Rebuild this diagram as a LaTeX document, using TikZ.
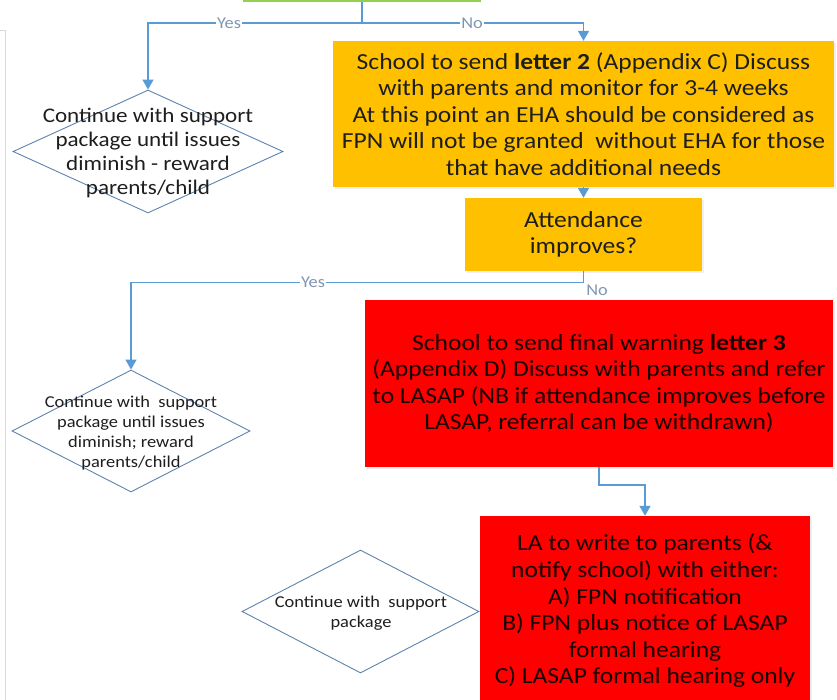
\documentclass[tikz,border=0pt]{standalone}
\usepackage{fontspec}
\setmainfont{Carlito}[FakeStretch=1.11]
\usetikzlibrary{arrows.meta,shapes.geometric,shadows}
\definecolor{orangebox}{HTML}{FFC000}
\definecolor{redbox}{HTML}{FF0000}
\definecolor{greenbox}{HTML}{92D050}
\definecolor{linkblue}{HTML}{5B9BD5}
\definecolor{diamline}{HTML}{5E83AD}
\definecolor{labgray}{HTML}{7F96B2}
\definecolor{txt}{HTML}{1E1E1E}
\tikzset{
  box/.style={rectangle, inner sep=0pt, draw=none, text=txt, align=center,
    font=\fontsize{23}{26.6}\selectfont,
    drop shadow={opacity=0.12, shadow xshift=1.5pt, shadow yshift=-2pt}},
  orangeb/.style={box, fill=orangebox},
  redb/.style={box, fill=redbox, text=black!90!red},
  diam/.style={diamond, draw=diamline, line width=0.9pt, fill=white, inner sep=0pt, aspect=2},
  dtextbig/.style={align=center, text=txt, font=\fontsize{20.8}{24}\selectfont},
  dtextsmall/.style={align=center, text=txt, font=\fontsize{16.6}{19.8}\selectfont},
  link/.style={draw=linkblue, line width=1.5pt, -{Triangle[width=11pt,length=10pt]}},
  plainlink/.style={draw=linkblue, line width=1.5pt},
  lab/.style={fill=white, inner sep=1pt, text=labgray, font=\fontsize{16.5}{18}\selectfont},
}
\begin{document}
\begin{tikzpicture}[x=1pt,y=-1pt]
\useasboundingbox (0,0) rectangle (837,699);
% frame line at left
\draw[black!15, line width=1pt] (0,30) -- (5,30) -- (5,705);
% top green box (only its bottom shows)
\node[rectangle, fill=greenbox, inner sep=0pt, minimum width=238pt, minimum height=40pt] (g) at (362,-18) {};
% orange box 1
\node[orangeb, minimum width=501pt, minimum height=146pt] (o1) at (583.5,114)
  {School to send \textbf{letter 2} (Appendix C) Discuss\\
   with parents and monitor for 3-4 weeks\\
   At this point an EHA should be considered as\\
   FPN will not be granted\ \ without EHA for those\\
   that have additional needs};
% attendance box
\node[orangeb, minimum width=237pt, minimum height=73pt] (a1) at (583.5,234.5)
  {Attendance\\improves?};
% red box 1
\node[redb, minimum width=468pt, minimum height=167pt] (r1) at (599,383.5)
  {School to send final warning \textbf{letter 3}\\
   (Appendix D) Discuss with parents and refer\\
   to LASAP (NB if attendance improves before\\
   LASAP, referral can be withdrawn)};
% red box 2
\node[redb, minimum width=330pt, minimum height=190pt] (r2) at (645,611)
  {LA to write to parents (\&\\
   notify school) with either:\\
   A) FPN notification\\
   B) FPN plus notice of LASAP\\
   formal hearing\\
   C) LASAP formal hearing only};
% diamonds
\node[diam, minimum width=270pt, minimum height=123pt] (d1) at (148,151.5) {};
\node[dtextbig] (d1t) at (148,153) {Continue with support\\package until issues\\diminish - reward\\parents/child};
\node[diam, minimum width=238pt, minimum height=122pt] (d2) at (131,431) {};
\node[dtextsmall] (d2t) at (131,433) {Continue with\ \ support\\package until issues\\diminish; reward\\parents/child};
\node[diam, minimum width=237pt, minimum height=123pt] (d3) at (360.5,611.5) {};
\node[dtextsmall] (d3t) at (361,613) {Continue with\ \ support\\package};
% connectors
\coordinate (s1) at (362,23);
\coordinate (s2) at (583.5,282.5);
\draw[plainlink] (g.south) -- (s1);
\draw[link] (s1) -| (d1.north);
\draw[link] (s1) -| (o1.north);
\node[lab] (yes1) at (229,23) {Yes};
\node[lab] (no1) at (472,23) {No};
\draw[link] (o1.south) -- (a1.north);
\draw[link] (a1.south) -- (s2) -| (d2.north);
\node[lab] (yes2) at (313,282.5) {Yes};
\node[lab, fill=none] (no2) at (597,290) {No};
\draw[link] (r1.south) -- (599,485) -| (r2.north);
\end{tikzpicture}
\end{document}
